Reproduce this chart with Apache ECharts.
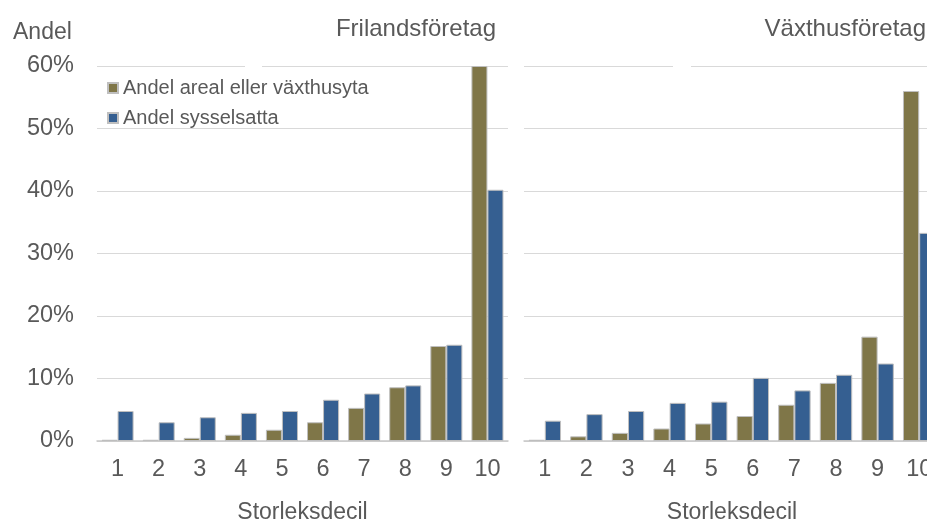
<!DOCTYPE html>
<html><head><meta charset="utf-8">
<script src="https://cdn.jsdelivr.net/npm/echarts@6/dist/echarts.min.js"></script>
<style>html,body{margin:0;padding:0;background:#fff}#c{width:927px;height:520px}</style>
</head><body><div id="c"></div>
<script>
const categories = ['1','2','3','4','5','6','7','8','9','10'];
const seriesNames = ['Andel areal eller växthusyta','Andel sysselsatta'];
const panelTitles = ['Frilandsföretag','Växthusföretag'];
const frilandAreal = [0.2,0.2,0.5,1.0,1.8,3.0,5.3,8.6,15.2,60.0];
const frilandSyss  = [4.8,3.0,3.8,4.5,4.8,6.6,7.6,8.9,15.4,40.2];
const vaxthusAreal = [0.2,0.75,1.3,2.0,2.8,4.0,5.8,9.3,16.7,56.0];
const vaxthusSyss  = [3.25,4.3,4.8,6.1,6.3,10.1,8.1,10.6,12.4,33.3];
const yTicks = {min:0,max:60,interval:10};

const txt = '#595959';
const font = 'Liberation Sans, Arial, sans-serif';
const olive = '#7f7648', blue = '#355f91';

const chart = echarts.init(document.getElementById('c'));
function xAxis(i){
  return {type:'category',gridIndex:i,data:categories,
    axisTick:{show:false},
    axisLine:{lineStyle:{color:'#c8c8c8',width:1.5}},
    axisLabel:{color:txt,fontSize:23.5,fontFamily:font,margin:17},
    name:'Storleksdecil',nameLocation:'middle',nameGap:60,
    nameTextStyle:{color:txt,fontSize:23,fontFamily:font}};
}
function yAxis(i,showLabel){
  return {type:'value',gridIndex:i,min:yTicks.min,max:yTicks.max,interval:yTicks.interval,
    axisLine:{show:false},axisTick:{show:false},
    splitLine:{lineStyle:{color:'#d9d9d9',width:1}},
    axisLabel:{show:showLabel,formatter:'{value}%',color:txt,fontSize:23.5,fontFamily:font,margin:23}};
}
function bar(name,data,i,color){
  return {name:name,type:'bar',xAxisIndex:i,yAxisIndex:i,data:data,
    barGap:'0%',barCategoryGap:'22%',
    itemStyle:{color:color,borderColor:'#bfbfbf',borderWidth:1}};
}
chart.setOption({
  animation:false,
  textStyle:{fontFamily:font},
  title:[
    {text:panelTitles[0],right:431,top:17,padding:0,textStyle:{color:txt,fontSize:24,fontWeight:'normal',fontFamily:font}},
    {text:panelTitles[1],right:1,top:17,padding:0,textStyle:{color:txt,fontSize:24,fontWeight:'normal',fontFamily:font}},
    {text:'Andel',left:13,top:21,padding:0,textStyle:{color:txt,fontSize:23,fontWeight:'normal',fontFamily:font}}
  ],
  legend:{orient:'vertical',left:102,top:73,itemWidth:10,itemHeight:10,itemGap:10,
    data:seriesNames,textStyle:{color:txt,fontSize:20,fontFamily:font},
    icon:'rect'},
  grid:[
    {left:97,top:66,width:411,height:375,outerBoundsMode:'none',containLabel:false},
    {left:524,top:66,width:416,height:375,outerBoundsMode:'none',containLabel:false}
  ],
  xAxis:[xAxis(0),xAxis(1)],
  yAxis:[yAxis(0,true),yAxis(1,false)],
  graphic:[
    {type:'rect',shape:{x:245,y:63,width:17,height:6},style:{fill:'#fff'},z:10},
    {type:'rect',shape:{x:673,y:63,width:18,height:6},style:{fill:'#fff'},z:10}
  ],
  series:[
    bar(seriesNames[0],frilandAreal,0,olive),
    bar(seriesNames[1],frilandSyss,0,blue),
    bar(seriesNames[0],vaxthusAreal,1,olive),
    bar(seriesNames[1],vaxthusSyss,1,blue)
  ]
});
</script></body></html>
